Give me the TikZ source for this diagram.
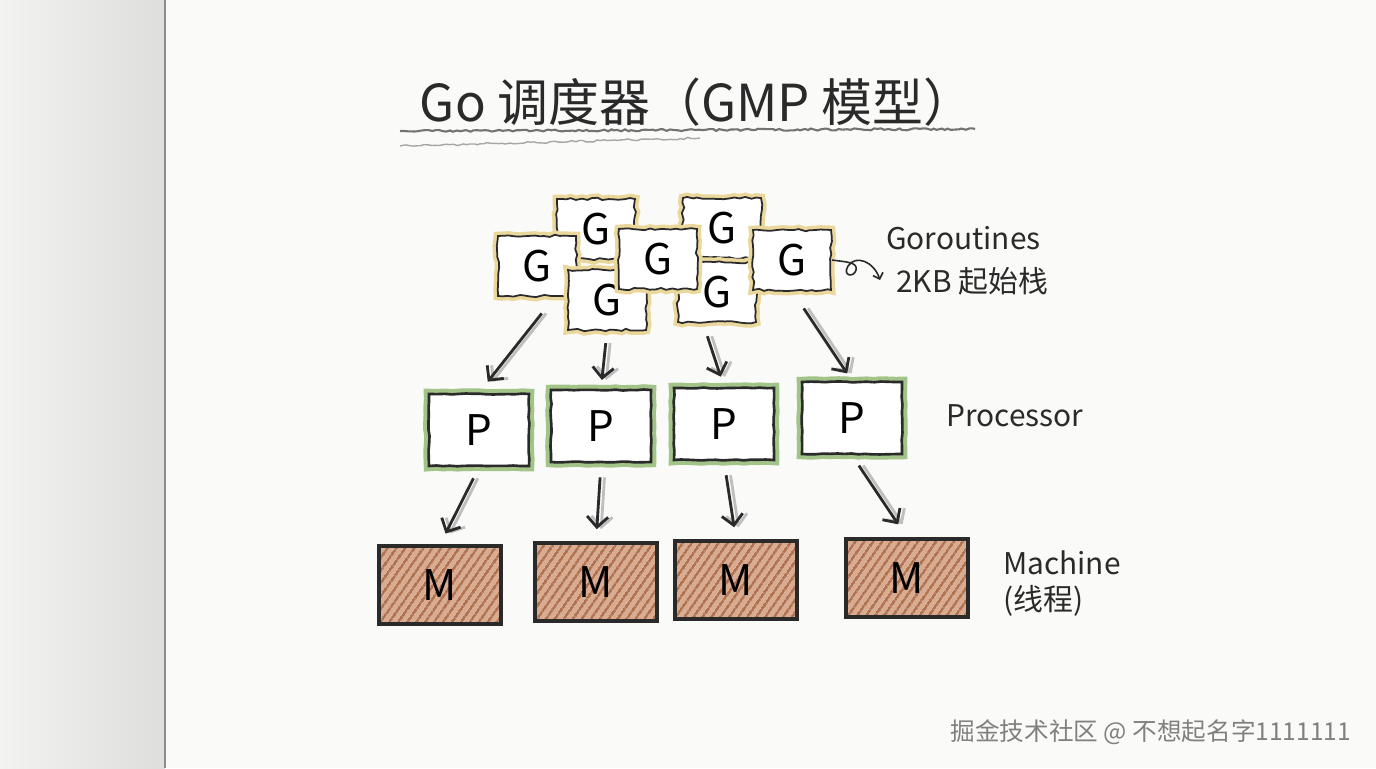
\documentclass[tikz,border=0pt]{standalone}
\usepackage{fontspec}
\setmainfont{Noto Sans CJK SC}
\usetikzlibrary{decorations.pathmorphing,patterns.meta,arrows.meta}

\definecolor{paper}{HTML}{FAFAF8}
\definecolor{edgeL}{HTML}{F2F2F1}
\definecolor{edgeR}{HTML}{DEDEDC}
\definecolor{ink}{HTML}{2A2A2A}
\definecolor{gglow}{HTML}{EAD79C}
\definecolor{pgreen}{HTML}{A2C488}
\definecolor{mbrown}{HTML}{D9AC92}
\definecolor{mdark}{HTML}{B0714F}

\begin{document}
\begin{tikzpicture}[x=0.02cm, y=-0.02cm,
    gbox/.style ={draw=ink, line width=1pt, fill=white, minimum width=1.56cm, minimum height=1.2cm,
                  font=\fontsize{24}{26}\selectfont, decorate,
                  decoration={random steps, segment length=3pt, amplitude=0.7pt},
                  preaction={draw=gglow, line width=5pt}},
    pbox/.style ={draw=ink, line width=1.5pt, fill=white, minimum width=2cm, minimum height=1.44cm,
                  font=\fontsize{24}{26}\selectfont, decorate,
                  decoration={random steps, segment length=4pt, amplitude=0.3pt},
                  preaction={draw=pgreen, line width=6pt}},
    mbox/.style ={draw=ink, line width=1.8pt, minimum width=2.44cm, minimum height=1.56cm,
                  font=\fontsize{24}{26}\selectfont,
                  preaction={fill=mbrown},
                  pattern={Lines[angle=55, distance=4pt, line width=1.6pt]}, pattern color=mdark},
    label/.style ={anchor=west, text=ink, font=\fontsize{17}{20}\selectfont},
    arr/.style ={draw=ink, line width=1.6pt, -{Straight Barb[length=6pt, width=12pt]},
                 preaction={draw=black!25, line width=1.6pt, transform canvas={xshift=2.5pt}}},
    curl/.style ={draw=ink, line width=0.9pt, -{Straight Barb[length=3pt, width=6pt]}}]
   \pgfmathsetseed{11}
   % paper and page edge
   \fill[paper] (0,0) rectangle (1376,768);
   \useasboundingbox (0,0) rectangle (1376,768);
   \fill[left color=edgeL, right color=edgeR] (0,0) rectangle (165,768);
   \draw[black!45, line width=0.8pt] (165,0) -- (165,768);

   % title
   \node[text=ink, font=\fontsize{29}{33}\selectfont] (title) at (697,102) {Go 调度器（GMP 模型）};
   \draw[black!55, line width=1.2pt, decorate, decoration={random steps, segment length=2pt, amplitude=0.6pt}]
     (400,131) -- (975,129);
   \draw[black!35, line width=0.8pt, decorate, decoration={random steps, segment length=2pt, amplitude=0.6pt}]
     (400,146) -- (700,138);

   % goroutines
   \node[gbox] (G2) at (596,229) {G};
   \node[gbox] (G5) at (722,228) {G};
   \node[gbox] (G1) at (537,266) {G};
   \node[gbox] (G3) at (607,300) {G};
   \node[gbox] (G6) at (717,292) {G};
   \node[gbox] (G4) at (658,259) {G};
   \node[gbox] (G7) at (792,260) {G};
   \coordinate (gtip) at (880,280);
   \draw[curl] (G7.east) .. controls (846,262) and (858,262) .. (856,270)
     .. controls (854,278) and (842,276) .. (848,266)
     .. controls (856,254) and (874,262) .. (gtip);
   \node[label] (gname) at (880,238) {Goroutines};
   \node[label] (gsize) at (890,281) {2KB 起始栈};

   % processors
   \node[pbox] (P1) at (479,430) {P};
   \node[pbox] (P2) at (601,426) {P};
   \node[pbox] (P3) at (724,424) {P};
   \node[pbox] (P4) at (852,418) {P};
   \node[label] (pname) at (940,416) {Processor};

   % machines
   \node[mbox] (M1) at (440,585) {M};
   \node[mbox] (M2) at (596,582) {M};
   \node[mbox] (M3) at (736,580) {M};
   \node[mbox] (M4) at (907,578) {M};
   \node[label] (mname) at (997,563) {Machine};
   \node[label] (mnote) at (997,601) {(线程)};

   % G -> P
   \draw[arr, shorten <=12pt, shorten >=8pt] (G1.-60) -- (P1.north);
   \draw[arr, shorten <=7pt, shorten >=5pt] (G3.south) -- (P2.north);
   \draw[arr, shorten <=8pt, shorten >=6pt] ([xshift=-8pt]G6.south) -- (P3.north);
   \draw[arr, shorten <=12pt, shorten >=5pt] (G7.south) -- (P4.north);

   % P -> M
   \draw[arr, shorten <=7pt, shorten >=7pt] (P1.south) -- (M1.north);
   \draw[arr, shorten <=8pt, shorten >=7pt] (P2.south) -- (M2.north);
   \draw[arr, shorten <=8pt, shorten >=7pt] (P3.south) -- (M3.north);
   \draw[arr, shorten <=7pt, shorten >=9pt] (P4.south) -- (M4.north);

   % watermark
   \node[text=black!50, font=\fontsize{14}{16}\selectfont] (mark) at (1151,732) {掘金技术社区 @ 不想起名字1111111};
 \end{tikzpicture}
\end{document}
